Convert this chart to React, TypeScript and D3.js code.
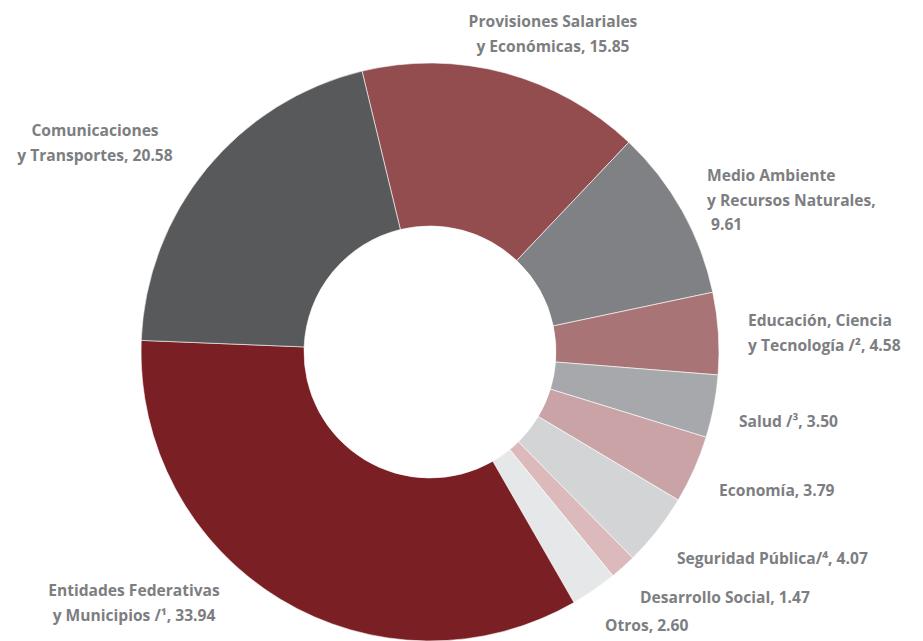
import React from "react";
import * as d3 from "d3";

const categories = [
  "Provisiones Salariales y Económicas",
  "Medio Ambiente y Recursos Naturales",
  "Educación, Ciencia y Tecnología /²",
  "Salud /³",
  "Economía",
  "Seguridad Pública/⁴",
  "Desarrollo Social",
  "Otros",
  "Entidades Federativas y Municipios /¹",
  "Comunicaciones y Transportes",
];
const values = [15.85, 9.61, 4.58, 3.5, 3.79, 4.07, 1.47, 2.6, 33.94, 20.58];
const colors = [
  "#934d4f",
  "#808184",
  "#a97475",
  "#a7a8ab",
  "#c9a3a5",
  "#d3d4d6",
  "#dcb9ba",
  "#e6e7e8",
  "#7a1f24",
  "#58595b",
];
// label lines per category
const labelLines: string[][] = [
  ["Provisiones Salariales", "y Económicas, 15.85"],
  ["Medio Ambiente", "y Recursos Naturales,", " 9.61"],
  ["Educación, Ciencia", "y Tecnología /², 4.58"],
  ["Salud /³, 3.50"],
  ["Economía, 3.79"],
  ["Seguridad Pública/⁴, 4.07"],
  ["Desarrollo Social, 1.47"],
  ["Otros, 2.60"],
  ["Entidades Federativas", "y Municipios /¹, 33.94"],
  ["Comunicaciones", "y Transportes, 20.58"],
];
const labelPos: { x: number; y: number; anchor: string }[] = [
  { x: 553, y: 27, anchor: "middle" },
  { x: 707, y: 181, anchor: "start" },
  { x: 748, y: 326, anchor: "start" },
  { x: 739, y: 427, anchor: "start" },
  { x: 719, y: 496, anchor: "start" },
  { x: 677, y: 564, anchor: "start" },
  { x: 640, y: 603, anchor: "start" },
  { x: 605, y: 631, anchor: "start" },
  { x: 134, y: 596, anchor: "middle" },
  { x: 95, y: 136, anchor: "middle" },
];

const W = 923;
const H = 641;
const cx = 430;
const cy = 352;
const outerR = 289;
const innerR = 126;

export default function App() {
  const startDeg = -13.6;
  const pie = d3
    .pie<number>()
    .sort(null)
    .startAngle((startDeg * Math.PI) / 180)
    .endAngle(((startDeg + 360) * Math.PI) / 180);
  const arcs = pie(values);
  const arc = d3.arc<d3.PieArcDatum<number>>().innerRadius(innerR).outerRadius(outerR);
  return (
    <svg
      width={W}
      height={H}
      style={{ position: "absolute", left: 0, top: 0, background: "#fff" }}
    >
      <g transform={`translate(${cx},${cy})`}>
        {arcs.map((a, i) => (
          <path key={i} d={arc(a) || ""} fill={colors[i]} stroke="#fff" strokeWidth={0.6} />
        ))}
      </g>
      {labelLines.map((lines, i) => (
        <text
          key={i}
          x={labelPos[i].x}
          y={labelPos[i].y}
          textAnchor={labelPos[i].anchor}
          fill="#7d7e81"
          fontFamily="'Open Sans', Lato, sans-serif"
          fontWeight={700}
          fontSize={15.6}
        >
          {lines.map((l, j) => (
            <tspan key={j} x={labelPos[i].x} dy={j === 0 ? 0 : 24.5} xmlSpace="preserve">
              {l}
            </tspan>
          ))}
        </text>
      ))}
    </svg>
  );
}
